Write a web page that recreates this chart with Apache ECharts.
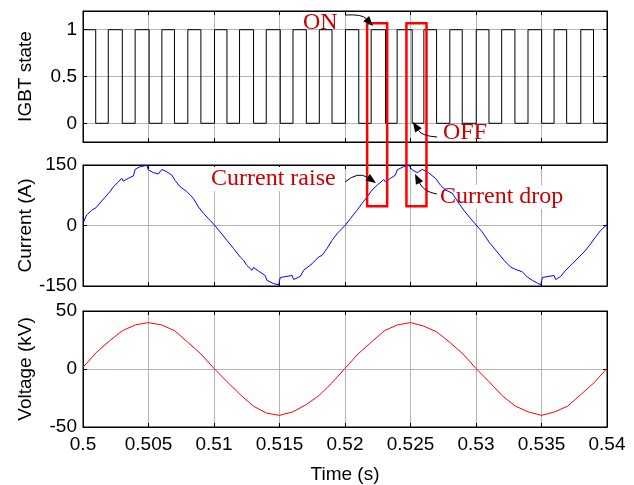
<!DOCTYPE html>
<html><head><meta charset="utf-8">
<script src="https://cdn.jsdelivr.net/npm/echarts@6/dist/echarts.min.js"></script>
<style>html,body{margin:0;padding:0;background:#fff}#c{width:634px;height:485px}</style>
</head><body><div id="c"></div>
<script>
// ---------------- data ----------------
const igbtTime = [0.5, 0.50097, 0.50193, 0.50300, 0.50398, 0.50505, 0.50602, 0.50698, 0.50800, 0.50900,
  0.51004, 0.51099, 0.51195, 0.51302, 0.51399, 0.51506, 0.51603, 0.51705, 0.51804, 0.51901,
  0.52003, 0.52105, 0.52200, 0.52309, 0.52398, 0.52513, 0.52602, 0.52699, 0.52800, 0.52895,
  0.53002, 0.53099, 0.53196, 0.53297, 0.53397, 0.53501, 0.53596, 0.53692, 0.53800, 0.53897, 0.54];
const igbtState = [1, 0, 1, 0, 1, 0, 1, 0, 1, 0,
  1, 0, 1, 0, 1, 0, 1, 0, 1, 0,
  1, 0, 1, 0, 1, 0, 1, 0, 1, 0,
  1, 0, 1, 0, 1, 0, 1, 0, 1, 0, 0];

const currentTime = [0.5, 0.50028, 0.50067, 0.50099, 0.5013, 0.50168, 0.50206, 0.50232, 0.5027, 0.50296,
  0.50308, 0.50346, 0.50385, 0.50398, 0.50436, 0.50487, 0.50499, 0.50537, 0.50576, 0.50602,
  0.5064, 0.50678, 0.50702, 0.50742, 0.50793, 0.50843, 0.50881, 0.5092, 0.50958, 0.51004,
  0.51047, 0.51099, 0.51149, 0.512, 0.51225, 0.51251, 0.5129, 0.51302, 0.5134, 0.51391,
  0.51404, 0.51455, 0.51493, 0.51506, 0.51557, 0.51596, 0.51608, 0.51659, 0.51684, 0.51748,
  0.51799, 0.51825, 0.51863, 0.51901, 0.5194, 0.52003, 0.52041, 0.52092, 0.52131, 0.52169,
  0.52207, 0.52245, 0.52296, 0.52309, 0.52347, 0.52385, 0.52398, 0.52449, 0.52487, 0.52513,
  0.52551, 0.52589, 0.52628, 0.52691, 0.52729, 0.52767, 0.52819, 0.52869, 0.52907, 0.52959,
  0.53002, 0.53048, 0.53099, 0.5315, 0.53213, 0.53264, 0.53303, 0.53354, 0.53392, 0.5343,
  0.53469, 0.53494, 0.53507, 0.53557, 0.53596, 0.53608, 0.53647, 0.53685, 0.53736, 0.53787,
  0.53838, 0.53876, 0.53914, 0.53952, 0.54];
const currentValue = [6, 26, 38, 44, 56, 70, 84, 96, 108, 117,
  110, 117, 123, 139, 146, 149, 138, 131, 128, 139,
  133, 125, 112, 96, 84, 67, 46, 30, 17, 1,
  -16, -37, -57, -78, -86, -99, -111, -104, -113, -124,
  -136, -144, -147, -129, -126, -124, -134, -126, -111, -95,
  -78, -74, -57, -37, -20, 1, 17, 38, 55, 71,
  88, 100, 114, 108, 117, 125, 138, 146, 149, 138,
  131, 139, 133, 117, 100, 88, 80, 55, 38, 17,
  1, -16, -41, -61, -86, -103, -109, -115, -128, -136,
  -143, -147, -129, -126, -124, -134, -126, -111, -95, -78,
  -61, -45, -28, -12, 2];

const voltageTime = [0.500, 0.501, 0.502, 0.503, 0.504, 0.505, 0.506, 0.507, 0.508, 0.509,
  0.510, 0.511, 0.512, 0.513, 0.514, 0.515, 0.516, 0.517, 0.518, 0.519,
  0.520, 0.521, 0.522, 0.523, 0.524, 0.525, 0.526, 0.527, 0.528, 0.529,
  0.530, 0.531, 0.532, 0.533, 0.534, 0.535, 0.536, 0.537, 0.538, 0.539, 0.540];
const voltageValue = [1.5, 14, 24, 33, 38, 40, 38, 33, 23, 13,
  0.5, -11, -22, -32, -38, -40, -37, -31, -23, -12,
  0.5, 13, 23, 33, 38, 40, 37, 32, 23, 13,
  0.5, -11, -23, -32, -37, -40, -37, -32, -22, -12, 0.5];

const yTitles = ['IGBT state', 'Current (A)', 'Voltage (kV)'];
const xTitle = 'Time (s)';
const igbtTicks = [0, 0.5, 1];

// annotation boxes in data units
const boxStart = [0.52169, 0.52469];
const boxEnd = [0.52322, 0.52622];
const boxTopState = 1.07;
const boxBottomCurrent = 48;

// ---------------- chart ----------------
const FONT = 'Liberation Sans';
const chart = echarts.init(document.getElementById('c'), null, {renderer: 'canvas'});
const zip = (a, b) => a.map((v, i) => [v, b[i]]);

const grids = [
  {left: 83, right: 27, top: 11, height: 131},
  {left: 83, right: 27, top: 165, height: 121},
  {left: 83, right: 27, top: 311, height: 116}
].map(g => Object.assign(g, {show: true, borderColor: '#000', borderWidth: 1, backgroundColor: '#fff'}));

const xAxes = [], yAxes = [];
const yRanges = [
  {min: -0.2, max: 1.2},
  {min: -150, max: 150, interval: 150},
  {min: -50, max: 50, interval: 50}
];
for (let i = 0; i < 3; i++) {
  const base = {
    type: 'value', gridIndex: i, min: 0.5, max: 0.54, interval: 0.005,
    axisLine: {show: true, onZero: false, lineStyle: {color: '#000', width: 1}},
    axisTick: {show: true, inside: true, length: 4, lineStyle: {color: '#000'}}
  };
  xAxes.push(Object.assign({}, base, {
    position: 'bottom',
    axisLabel: {show: i === 2, color: '#000', fontFamily: FONT, fontSize: 19, margin: 8,
      formatter: v => String(+v.toFixed(3))},
    splitLine: {show: true, lineStyle: {color: '#b4b4b4', width: 1}},
    name: i === 2 ? xTitle : '', nameLocation: 'middle', nameGap: 38, nameMoveOverlap: false,
    nameTextStyle: {color: '#000', fontFamily: FONT, fontSize: 19}
  }));
  xAxes.push(Object.assign({}, base, {
    position: 'top', axisLabel: {show: false}, splitLine: {show: false}
  }));
  const r = yRanges[i];
  const yb = {
    type: 'value', gridIndex: i, min: r.min, max: r.max,
    axisLine: {show: true, onZero: false, lineStyle: {color: '#000', width: 1}},
    axisTick: {show: true, inside: true, length: 4, lineStyle: {color: '#000'}}
  };
  if (r.interval) yb.interval = r.interval;
  else { yb.axisTick.customValues = igbtTicks; }
  const left = Object.assign({}, yb, {
    position: 'left',
    axisLabel: {show: true, color: '#000', fontFamily: FONT, fontSize: 19, margin: 6},
    splitLine: {show: true, lineStyle: {color: '#b4b4b4', width: 1}},
    name: yTitles[i], nameLocation: 'middle', nameGap: 48, nameMoveOverlap: false,
    nameTextStyle: {color: '#000', fontFamily: FONT, fontSize: 19}
  });
  if (!r.interval) left.axisLabel.customValues = igbtTicks;
  yAxes.push(left);
  yAxes.push(Object.assign({}, yb, {position: 'right', axisLabel: {show: false}, splitLine: {show: false}}));
}

chart.setOption({
  animation: false,
  backgroundColor: '#fff',
  grid: grids,
  xAxis: xAxes,
  yAxis: yAxes,
  series: [
    {type: 'line', xAxisIndex: 0, yAxisIndex: 0, step: 'end', data: zip(igbtTime, igbtState),
      showSymbol: false, lineStyle: {color: '#000', width: 1}, z: 2},
    {type: 'line', xAxisIndex: 2, yAxisIndex: 2, data: zip(currentTime, currentValue),
      showSymbol: false, lineStyle: {color: '#0000ff', width: 1}, z: 2},
    {type: 'line', xAxisIndex: 4, yAxisIndex: 4, data: zip(voltageTime, voltageValue),
      showSymbol: false, lineStyle: {color: '#ff0000', width: 1}, z: 2}
  ]
});

// ---------------- annotations ----------------
const RED_TEXT = '#c80000';
const SERIF = '24px "Liberation Serif"';
function arrow(x1, y1, cx, cy, x2, y2) {
  const dx = x2 - cx, dy = y2 - cy, L = Math.hypot(dx, dy), ux = dx / L, uy = dy / L;
  const hl = 10, hw = 4, bx = x2 - ux * hl, by = y2 - uy * hl;
  return [
    {type: 'bezierCurve', z: 10, shape: {x1: x1, y1: y1, x2: bx, y2: by, cpx1: cx, cpy1: cy},
      style: {stroke: '#000', lineWidth: 1, fill: null}},
    {type: 'polygon', z: 10, shape: {points: [[x2, y2], [bx - uy * hw, by + ux * hw], [bx + uy * hw, by - ux * hw]]},
      style: {fill: '#000'}}
  ];
}
function label(text, x, y, bg) {
  const st = {text: text, font: SERIF, fill: RED_TEXT, align: 'left', verticalAlign: 'middle'};
  if (bg) { st.backgroundColor = '#fff'; }
  return {type: 'text', x: x, y: y, z: 1, style: st};
}
const gfx = [];
for (let k = 0; k < boxStart.length; k++) {
  const p1 = chart.convertToPixel({xAxisIndex: 0, yAxisIndex: 0}, [boxStart[k], boxTopState]);
  const p2 = chart.convertToPixel({xAxisIndex: 2, yAxisIndex: 2}, [boxEnd[k], boxBottomCurrent]);
  gfx.push({type: 'rect', z: 10, shape: {x: p1[0], y: p1[1], width: p2[0] - p1[0], height: p2[1] - p1[1]},
    style: {fill: null, stroke: '#ff0000', lineWidth: 2.5}});
}
gfx.push(label('ON', 303, 23, false));
gfx.push(label('OFF', 443, 133, false));
gfx.push(label('Current raise', 211, 179, true));
gfx.push(label('Current drop', 440, 197, true));
gfx.push(...arrow(345, 15, 362, 14, 373, 26));
gfx.push(...arrow(437, 137, 422, 136, 413, 122));
gfx.push(...arrow(345, 182, 358, 171, 376, 183));
gfx.push(...arrow(437, 194, 424, 192, 415, 174));
chart.setOption({graphic: gfx});
</script>
</body></html>
